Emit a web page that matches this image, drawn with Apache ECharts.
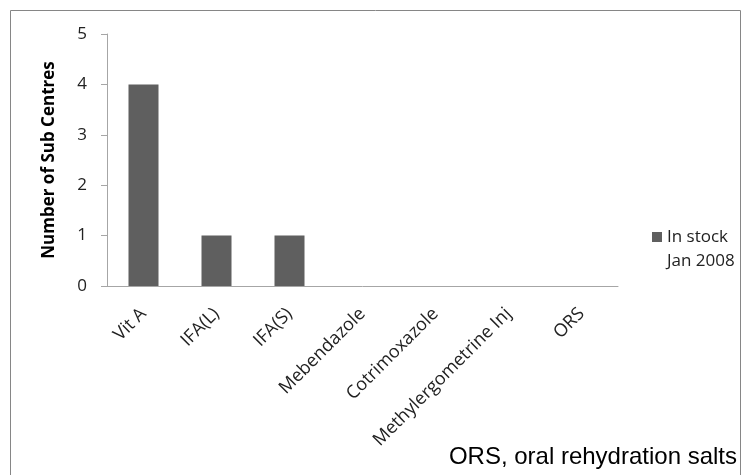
<!DOCTYPE html>
<html>
<head>
<meta charset="utf-8">
<script src="https://cdn.jsdelivr.net/npm/echarts@6/dist/echarts.min.js"></script>
<style>
  html, body { margin: 0; padding: 0; background: #fff; }
  #chart { width: 750px; height: 475px; }
</style>
</head>
<body>
<div id="chart"></div>
<script>
const categories = ['Vit A', 'IFA(L)', 'IFA(S)', 'Mebendazole', 'Cotrimoxazole', 'Methylergometrine Inj', 'ORS'];
const inStock = [4, 1, 1, 0, 0, 0, 0];
const seriesName = 'In stock\nJan 2008';
const yTitle = 'Number of Sub Centres';
const footnote = 'ORS, oral rehydration salts';

const chart = echarts.init(document.getElementById('chart'));
const font = '"Open Sans", Lato, sans-serif';

// square in the top part of a tall box, so it lines up with the first legend line
const legendIcon = 'path://M0,0L10,0L10,10L0,10Z M0,34L0,34';

const option = {
  animation: false,
  grid: { left: 107, right: 132, top: 34, bottom: 189 },
  legend: {
    data: [seriesName],
    left: 647,
    top: 220,
    itemWidth: 10,
    itemHeight: 34,
    icon: legendIcon,
    textStyle: { fontFamily: font, fontSize: 17, color: '#222', lineHeight: 24 }
  },
  xAxis: {
    type: 'category',
    data: categories,
    axisLine: { lineStyle: { color: '#a6a6a6' } },
    axisTick: { length: 6, lineStyle: { color: '#a6a6a6' } },
    axisLabel: {
      rotate: 45,
      interval: 0,
      margin: 25,
      fontFamily: font,
      fontSize: 18,
      color: '#222'
    }
  },
  yAxis: {
    type: 'value',
    min: 0,
    max: 5,
    interval: 1,
    name: yTitle,
    nameLocation: 'middle',
    nameGap: 49,
    nameTextStyle: { fontFamily: font, fontSize: 17, fontWeight: 'bold', color: '#000' },
    axisLine: { show: true, lineStyle: { color: '#a6a6a6' } },
    axisTick: { show: true, length: 6, lineStyle: { color: '#a6a6a6' } },
    splitLine: { show: false },
    axisLabel: { margin: 20, fontFamily: font, fontSize: 17, color: '#222' }
  },
  series: [{
    name: seriesName,
    type: 'bar',
    data: inStock,
    barWidth: 30,
    itemStyle: { color: '#5f5f5f' }
  }],
  graphic: [
    {
      type: 'rect',
      shape: { x: 10.5, y: 10.5, width: 730, height: 470 },
      style: { fill: null, stroke: '#868686', lineWidth: 1 }
    },
    {
      type: 'text',
      right: 13,
      top: 445,
      style: { text: footnote, font: '24px "Liberation Sans", Arial, sans-serif', fill: '#000' }
    }
  ]
};

chart.setOption(option);
</script>
</body>
</html>
